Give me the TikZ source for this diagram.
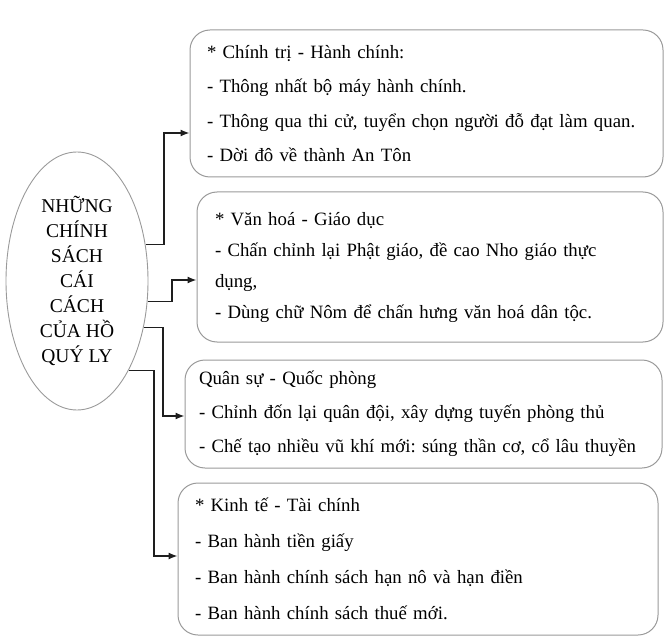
\documentclass[tikz,border=0pt]{standalone}
\usepackage{fontspec}
\setmainfont{Liberation Serif}
\usetikzlibrary{arrows.meta,shapes.geometric}

\definecolor{rimgray}{HTML}{9A9A9A}
\definecolor{linkblack}{HTML}{1E1E1E}

\begin{document}
\frenchspacing
\begin{tikzpicture}[x=1pt,y=-1pt]
    \tikzset{hub/.style = {shape=ellipse,draw=rimgray,line width=0.9pt,inner sep=0pt,
        minimum width=142pt,minimum height=258pt,align=center,
        font=\fontsize{19.5}{25}\selectfont}}
    \tikzset{policy/.style = {rectangle,rounded corners=20pt,draw=rimgray,line width=1pt,
        inner xsep=14pt,inner ysep=0pt,align=left}}
    \tikzset{link/.style = {-{Latex[length=9pt,width=7pt]},draw=linkblack,line width=1.3pt}}
    \useasboundingbox (0,0) rectangle (666,644);
    % vertices
    \node[hub] (ell) at (77,281) {NHỮNG\\CHÍNH\\SÁCH\\CÁI\\CÁCH\\CỦA HỒ\\QUÝ LY};
    \node[policy,text width=445pt,minimum height=147pt,
        font=\fontsize{18.8}{34.5}\selectfont] (b1) at (426.5,103.5)
        {\hspace*{3pt}* Chính trị - Hành chính:\\
         \hspace*{3pt}- Thông nhất bộ máy hành chính.\\
         \hspace*{3pt}- Thông qua thi cử, tuyển chọn người đỗ đạt làm quan.\\
         \hspace*{3pt}- Dời đô về thành An Tôn};
    \node[policy,text width=438pt,minimum height=150pt,
        font=\fontsize{18.8}{31}\selectfont] (b2) at (430,267)
        {\hspace*{4pt}* Văn hoá - Giáo dục\\
         \hspace*{4pt}- Chấn chỉnh lại Phật giáo, đề cao Nho giáo thực\\
         \hspace*{4pt}dụng,\\
         \hspace*{4pt}- Dùng chữ Nôm để chấn hưng văn hoá dân tộc.};
    \node[policy,text width=449pt,minimum height=108pt,
        font=\fontsize{18.8}{34}\selectfont] (b3) at (423.5,414)
        {Quân sự - Quốc phòng\\
         - Chỉnh đốn lại quân đội, xây dựng tuyến phòng thủ\\
         - Chế tạo nhiều vũ khí mới: súng thần cơ, cổ lâu thuyền};
    \node[policy,text width=452pt,minimum height=152pt,
        font=\fontsize{18.8}{36}\selectfont] (b4) at (418,559)
        {\hspace*{3pt}* Kinh tế - Tài chính\\
         \hspace*{3pt}- Ban hành tiền giấy\\
         \hspace*{3pt}- Ban hành chính sách hạn nô và hạn điền\\
         \hspace*{3pt}- Ban hành chính sách thuế mới.};
    % bends
    \coordinate (k1) at (164,133);
    \coordinate (k2) at (172,280);
    \coordinate (k3) at (163,416);
    \coordinate (k4) at (154,556);
    %edges
    \draw[link] (ell.28) -| (k1) -- (k1 -| b1.west);
    \draw[link] (ell.-16) -| (k2) -- (k2 -| b2.west);
    \draw[link] (ell.-35) -| (k3) -- (k3 -| b3.west);
    \draw[link] (ell.-60) -| (k4) -- (k4 -| b4.west);
\end{tikzpicture}
\end{document}
